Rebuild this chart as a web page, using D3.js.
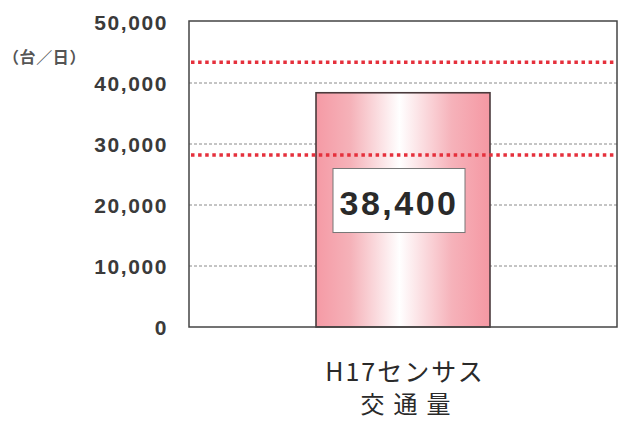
<!DOCTYPE html>
<html><head><meta charset="utf-8">
<script src="https://cdn.jsdelivr.net/npm/d3@7"></script>
<style>body{margin:0;background:#fff}svg{display:block}</style>
</head><body>
<svg id="c" width="618" height="421"></svg>
<script>
const categories = ["H17センサス"];
const categoryLine2 = ["交通量"];
const values = [38400];
const valueLabels = ["38,400"];
const refLines = [43400, 28200];
const tickValues = [0, 10000, 20000, 30000, 40000, 50000];
const unitLabel = "（台／日）";

const svg = d3.select("#c");
const m = {l:189, r:617, t:21, b:327};
const y = d3.scaleLinear().domain([0,50000]).range([m.b, m.t+1]);
const x = d3.scaleBand().domain(categories).range([m.l, m.r]).paddingInner(0).paddingOuter(0.73);

const defs = svg.append("defs");
const g = defs.append("linearGradient").attr("id","bg").attr("x1","0").attr("x2","1").attr("y1","0").attr("y2","0");
[[0,"#f59aa5"],[0.2,"#f5b2b9"],[0.48,"#ffffff"],[0.78,"#f6b2ba"],[1,"#f598a3"]].forEach(s=>g.append("stop").attr("offset",s[0]).attr("stop-color",s[1]));

// gridlines
svg.append("g").selectAll("line").data(tickValues.filter(v=>v>0 && v<50000)).join("line")
  .attr("x1",m.l).attr("x2",m.r).attr("y1",d=>y(d)).attr("y2",d=>y(d))
  .attr("stroke","#8a8a8a").attr("stroke-width",1).attr("stroke-dasharray","3,2");

// y axis labels
const ya = svg.append("g").attr("transform",`translate(${m.l-18},0)`)
  .call(d3.axisLeft(y).tickValues(tickValues).tickFormat(d3.format(",")).tickSize(0));
ya.select(".domain").remove();
ya.selectAll("text").attr("font-family","'Liberation Sans',Arial,sans-serif").attr("font-weight","bold")
  .attr("font-size",21).attr("fill","#3a3a3a").attr("letter-spacing","1.6").attr("dy","0.36em");

svg.append("text").attr("x",3).attr("y",63).text(unitLabel)
  .attr("font-family","'Noto Sans CJK JP',sans-serif").attr("font-size",16).attr("fill","#555")
  .attr("font-weight","bold").attr("letter-spacing","0.6");

// bars
svg.append("g").selectAll("rect").data(values).join("rect")
  .attr("x",(d,i)=>x(categories[i])).attr("width",x.bandwidth())
  .attr("y",d=>y(d)).attr("height",d=>y(0)-y(d))
  .attr("fill","url(#bg)").attr("stroke","#4a3a3c").attr("stroke-width",1.6);

// reference lines
svg.append("g").selectAll("line").data(refLines).join("line")
  .attr("x1",m.l+2).attr("x2",m.r).attr("y1",d=>y(d)).attr("y2",d=>y(d))
  .attr("stroke","#e5303c").attr("stroke-width",3.5).attr("stroke-dasharray","3.5,3.6");

// frame
svg.append("rect").attr("x",m.l).attr("y",m.t).attr("width",m.r-m.l).attr("height",m.b-m.t)
  .attr("fill","none").attr("stroke","#444").attr("stroke-width",1.5);

// value label box
values.forEach((v,i)=>{
  const cx = x(categories[i]) + x.bandwidth()/2;
  const cy = y(v*0.54);
  svg.append("rect").attr("x",cx-70).attr("y",cy-32).attr("width",132).attr("height",64)
    .attr("fill","#fff").attr("stroke","#777").attr("stroke-width",1);
  svg.append("text").attr("x",cx-4).attr("y",cy+2).attr("text-anchor","middle").attr("dy","0.36em")
    .attr("font-family","'Liberation Sans',Arial,sans-serif").attr("font-weight","bold").attr("font-size",34)
    .attr("fill","#2a2a2a").attr("letter-spacing","2.5").text(valueLabels[i]);
});

// x labels
categories.forEach((c,i)=>{
  const cx = x(c) + x.bandwidth()/2;
  svg.append("text").attr("x",cx+2).attr("y",381).attr("text-anchor","middle").text(c)
    .attr("font-family","'Noto Sans CJK JP',sans-serif").attr("font-size",25).attr("fill","#2a2a2a").attr("letter-spacing","2");
  svg.append("text").attr("x",cx+7).attr("y",413).attr("text-anchor","middle").text(categoryLine2[i])
    .attr("font-family","'Noto Sans CJK JP',sans-serif").attr("font-size",24).attr("fill","#2a2a2a").attr("letter-spacing","9");
});
</script>
</body></html>
